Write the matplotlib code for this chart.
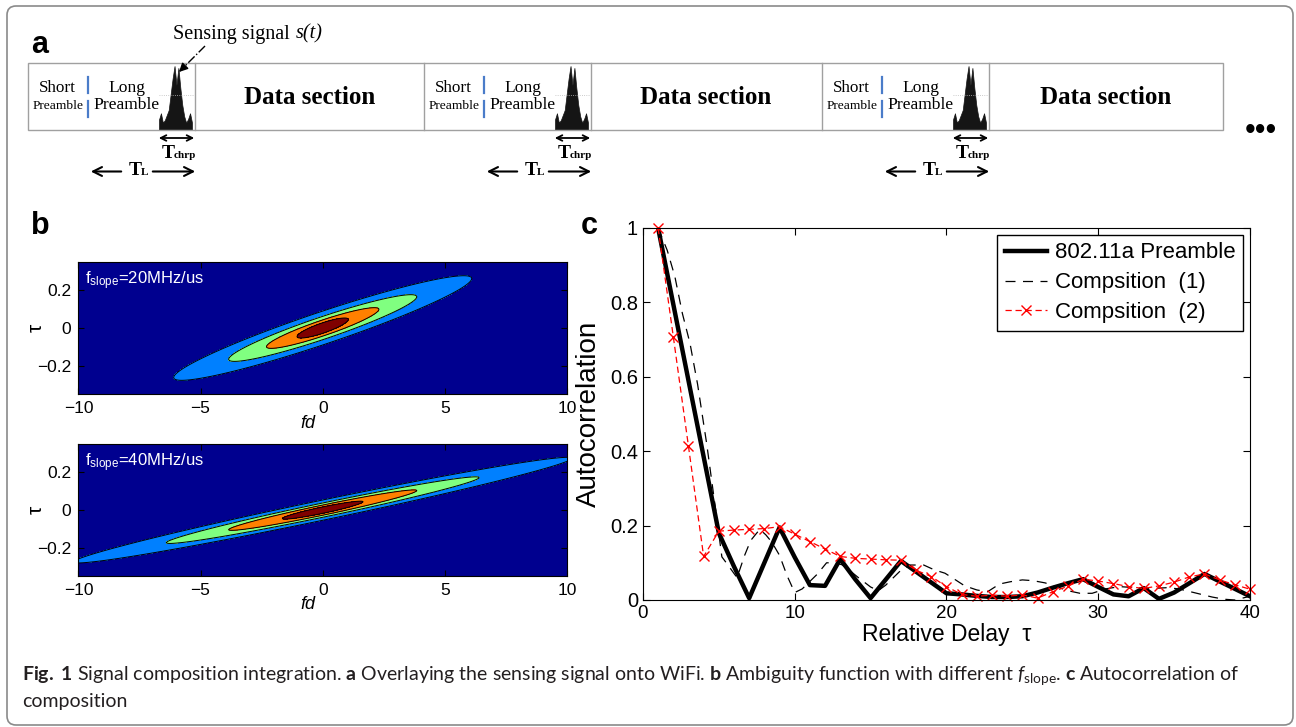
import numpy as np
import matplotlib.pyplot as plt
from matplotlib.patches import FancyBboxPatch, Rectangle

plt.rcParams['font.family'] = ['Liberation Sans', 'DejaVu Sans']
plt.rcParams['mathtext.fontset'] = 'custom'
plt.rcParams['mathtext.rm'] = 'Lato'
plt.rcParams['mathtext.it'] = 'Lato:italic'
plt.rcParams['mathtext.bf'] = 'Lato:bold'

# ---- panel c data ----
delay = np.arange(1, 41)
preamble_corr = [1.0, 0.795, 0.59, 0.385, 0.18, 0.09, 0.005, 0.1, 0.195, 0.115,
                 0.04, 0.038, 0.11, 0.055, 0.005, 0.055, 0.105, 0.076, 0.047, 0.018,
                 0.015, 0.011, 0.008, 0.008, 0.01, 0.02, 0.033, 0.045, 0.056, 0.035,
                 0.015, 0.01, 0.032, 0.003, 0.02, 0.045, 0.07, 0.05, 0.03, 0.01]
comp2_corr = [1.0, 0.708, 0.413, 0.117, 0.185, 0.188, 0.19, 0.192, 0.197, 0.177,
              0.157, 0.137, 0.117, 0.112, 0.11, 0.108, 0.107, 0.08, 0.063, 0.036,
              0.015, 0.01, 0.013, 0.01, 0.014, 0.005, 0.022, 0.037, 0.056, 0.051,
              0.044, 0.036, 0.031, 0.038, 0.048, 0.062, 0.07, 0.054, 0.041, 0.029]
comp1_delay = [1, 1.6, 2.1, 2.6, 3.1, 3.6, 4.2, 4.8, 5.2, 5.6, 6.2, 6.7, 7.1, 7.7,
               8.1, 8.5, 9.0, 9.5, 10.0, 10.5, 11.0, 11.5, 12.1, 12.6, 13.1, 13.6,
               14.2, 15.0, 15.5, 16.0, 16.5, 17.0, 17.6, 18.5, 19.2, 19.9, 20.6,
               21.2, 22.0, 22.7, 23.5, 24.2, 25.0, 25.7, 26.5, 27.3, 28.0, 28.8,
               29.6, 30.5, 31.4, 32.5, 33.5, 34.5, 35.3, 36.1, 36.8, 37.5, 38.3,
               39.0, 39.5, 40]
comp1_corr = [1.0, 0.94, 0.87, 0.77, 0.69, 0.58, 0.42, 0.24, 0.116, 0.094, 0.06,
              0.12, 0.16, 0.19, 0.175, 0.155, 0.12, 0.065, 0.02, 0.03, 0.05, 0.07,
              0.1, 0.1, 0.095, 0.08, 0.06, 0.035, 0.025, 0.04, 0.06, 0.08, 0.094,
              0.094, 0.081, 0.072, 0.054, 0.038, 0.027, 0.022, 0.043, 0.049, 0.054,
              0.052, 0.046, 0.035, 0.025, 0.018, 0.018, 0.03, 0.036, 0.033, 0.031,
              0.033, 0.03, 0.022, 0.015, 0.008, 0.002, 0.0, 0.005, 0.01]
legend_labels = ['802.11a Preamble', 'Compsition  (1)', 'Compsition  (2)']
c_xticks = [0, 10, 20, 30, 40]
c_yticks = [0, 0.2, 0.4, 0.6, 0.8, 1.0]
c_yticklabels = ['0', '0.2', '0.4', '0.6', '0.8', '1']

slope_labels = ['20MHz/us', '40MHz/us']
ridge_slope = [0.043, 0.027]
band_half_len = [[6.1, 3.85, 2.3, 1.05], [10.2, 6.4, 3.85, 1.65]]
band_half_wid = [[0.09, 0.062, 0.043, 0.028], [0.054, 0.038, 0.027, 0.017]]
band_colors = ['#00008F', '#0080FF', '#80FF80', '#FF8000', '#800000']

# ---- panel a: frame layout ----
unit_shift = [0, 396, 794]
chirp_env = [0.15, 0.25, 0.1, 0.14, 0.22, 0.3, 0.55, 0.8, 1.0, 0.7, 0.97, 0.65,
             0.38, 0.2, 0.1, 0.16, 0.25, 0.1]

fig = plt.figure(figsize=(12.96, 7.27), dpi=100)
ax0 = fig.add_axes([0, 0, 1, 1])
ax0.set_xlim(0, 1296)
ax0.set_ylim(727, 0)
ax0.axis('off')

ax0.add_patch(FancyBboxPatch((7, 6), 1286, 719, boxstyle='round,pad=0,rounding_size=9',
                             fc='none', ec='#8a8a8a', lw=1.2))

serif = 'Liberation Serif'
ax0.text(31, 45, 'a', fontsize=22, weight='bold', va='center')
ax0.text(31, 226, 'b', fontsize=22, weight='bold', va='center')
ax0.text(581, 226, 'c', fontsize=22, weight='bold', va='center')

ax0.add_patch(Rectangle((28, 63), 1195, 67, fc='none', ec='#a0a0a0', lw=1))
for i, s in enumerate(unit_shift):
    if i > 0:
        ax0.plot([28 + s, 28 + s], [63, 130], color='#a0a0a0', lw=1)
    ax0.plot([195 + s, 195 + s], [63, 130], color='#a0a0a0', lw=1)
    ax0.text(57 + s, 88, 'Short', family=serif, fontsize=12.3, ha='center', va='center')
    ax0.text(58 + s, 106, 'Preamble', family=serif, fontsize=9.7, ha='center', va='center')
    ax0.plot([88 + s, 88 + s], [77, 93], color='#4a7cc9', lw=1.6)
    ax0.plot([88 + s, 88 + s], [101, 117], color='#4a7cc9', lw=1.6)
    ax0.text(127 + s, 88, 'Long', family=serif, fontsize=12.6, ha='center', va='center')
    ax0.text(127 + s, 105, 'Preamble', family=serif, fontsize=12.6, ha='center', va='center')
    # chirp glyph
    cx = np.linspace(159 + s, 192 + s, len(chirp_env))
    ax0.fill_between(cx, 129, 129 - 63 * np.array(chirp_env), color='#151515', lw=0.5)
    ax0.plot([159 + s, 193 + s], [95, 95], color='#bbbbbb', lw=0.6, ls=':')
    data_end = 424 + s if i < 2 else 1223
    ax0.text((195 + s + data_end) / 2, 97, 'Data section', family=serif, fontsize=18,
             weight='bold', ha='center', va='center')
    # T_chrp arrow
    ax0.annotate('', xy=(156 + s, 138), xytext=(197 + s, 138),
                 arrowprops=dict(arrowstyle='<->', lw=1.3, color='k', mutation_scale=10))
    ax0.text(168 + s, 158, 'T', family=serif, fontsize=14, weight='bold', ha='center', va='baseline')
    ax0.text(174 + s, 158, 'chrp', family=serif, fontsize=8, weight='bold', ha='left', va='baseline')
    # T_L arrows
    ax0.annotate('', xy=(88 + s, 171.5), xytext=(124 + s, 171.5),
                 arrowprops=dict(arrowstyle='->', lw=1.5, color='k', mutation_scale=16))
    ax0.annotate('', xy=(198 + s, 171.5), xytext=(150 + s, 171.5),
                 arrowprops=dict(arrowstyle='->', lw=1.5, color='k', mutation_scale=16))
    ax0.text(135 + s, 175, 'T', family=serif, fontsize=14, weight='bold', ha='center', va='baseline')
    ax0.text(140.5 + s, 175, 'L', family=serif, fontsize=8, weight='bold', ha='left', va='baseline')

ax0.text(173, 34, 'Sensing signal', family=serif, fontsize=14.5, ha='left', va='center')
ax0.text(296, 34, 's(t)', family=serif, fontsize=14.5, style='italic', ha='left', va='center')
ax0.plot([205, 185], [46, 66], color='k', lw=1, ls='-.')
ax0.annotate('', xy=(177, 74), xytext=(186, 65),
             arrowprops=dict(arrowstyle='-|>', lw=1, color='k', mutation_scale=13))
ax0.text(1261, 131, '\u2022\u2022\u2022', fontsize=22, ha='center', va='center')

# caption
cap1 = (r'$\mathbf{Fig.}$ $\mathbf{1}$ Signal composition integration. $\mathbf{a}$ Overlaying the sensing '
        r'signal onto WiFi. $\mathbf{b}$ Ambiguity function with different '
        r'$\mathit{f}_{\mathrm{slope}}$. $\mathbf{c}$ Autocorrelation of')
ax0.text(22, 676, cap1, family='Lato', fontsize=14, va='center', color='#231f20')
ax0.text(22, 702, 'composition', family='Lato', fontsize=14, va='center', color='#231f20')

# ---- panel b ----
fd = np.linspace(-10, 10, 801)
tau = np.linspace(-0.35, 0.35, 561)
FD, TAU = np.meshgrid(fd, tau)
b_rects = [[0.0605, 0.458, 0.377, 0.1816], [0.0605, 0.2077, 0.377, 0.1812]]
for k in range(2):
    ax = fig.add_axes(b_rects[k])
    v = TAU - ridge_slope[k] * FD
    field = np.zeros_like(FD)
    for a, b in zip(band_half_len[k], band_half_wid[k]):
        r = np.sqrt((FD / a) ** 2 + (v / b) ** 2)
        field += np.clip((1 - r) / 0.1 + 0.5, 0, 1)
    ax.contourf(FD, TAU, field, levels=[-0.5, 0.5, 1.5, 2.5, 3.5, 4.5], colors=band_colors)
    ax.contour(FD, TAU, field, levels=[0.5, 1.5, 2.5, 3.5], colors='k', linewidths=0.7)
    ax.set_xlim(-10, 10)
    ax.set_ylim(-0.35, 0.35)
    ax.set_xticks([-10, -5, 0, 5, 10])
    ax.set_yticks([-0.2, 0, 0.2])
    ax.set_yticklabels(['\u22120.2', '0', '0.2'])
    ax.tick_params(direction='in', top=True, right=True, labelsize=12.5, length=4, pad=5)
    ax.set_xlabel('fd', fontsize=13, style='italic')
    ax.xaxis.set_label_coords(0.47, -0.22)
    ax.xaxis.label.set_va('center')
    ax.set_ylabel('\u03c4', fontsize=15)
    ax.yaxis.set_label_coords(-0.087, 0.5)
    ax.yaxis.label.set_va('center')
    ax.text(0.014, 0.86, r'$\mathregular{f_{slope}}$=' + slope_labels[k], transform=ax.transAxes,
            color='white', fontsize=12, va='center')

# ---- panel c ----
axc = fig.add_axes([0.4961, 0.1747, 0.4684, 0.5117])
axc.plot(delay, preamble_corr, color='k', lw=3.2, label=legend_labels[0])
axc.plot(comp1_delay, comp1_corr, color='k', lw=0.9, dashes=(8, 6), label=legend_labels[1])
axc.plot(delay, comp2_corr, color='red', lw=0.9, dashes=(5, 3), marker='x', ms=7, mew=1,
         label=legend_labels[2], clip_on=False)
axc.set_xlim(0, 40)
axc.set_ylim(0, 1)
axc.set_xticks(c_xticks)
axc.set_yticks(c_yticks)
axc.set_yticklabels(c_yticklabels)
axc.tick_params(direction='in', top=True, right=True, length=5)
axc.tick_params(axis='x', labelsize=13.5)
axc.tick_params(axis='y', labelsize=14.5)
axc.set_xlabel('Relative Delay  \u03c4', fontsize=16.5, labelpad=1)
axc.set_ylabel('Autocorrelation', fontsize=20, labelpad=6)
leg = axc.legend(loc='upper right', fontsize=16, handlelength=1.9, labelspacing=0.4,
                 borderaxespad=0.3, fancybox=False, framealpha=1, borderpad=0.35,
                 handletextpad=0.35)
leg.get_frame().set_edgecolor('k')
leg.get_frame().set_linewidth(1)

fig.savefig('out.png', dpi=100)
